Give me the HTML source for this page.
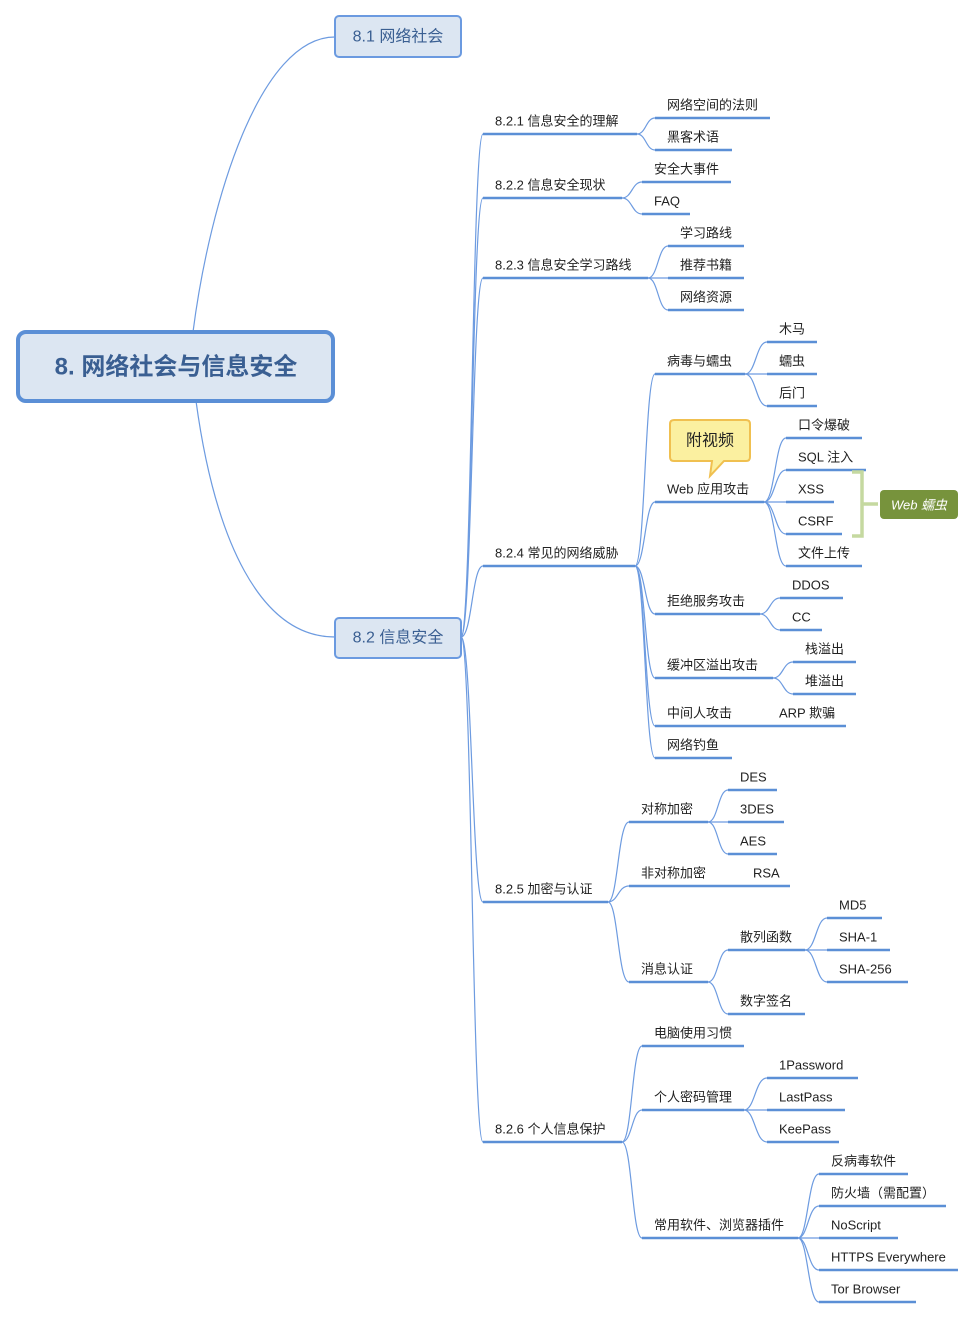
<!DOCTYPE html>
<html><head><meta charset="utf-8"><style>
html,body{margin:0;padding:0;background:#fff;}
svg{display:block;}
text{font-family:"Liberation Sans","Noto Sans CJK SC",sans-serif;font-size:13px;fill:#222;dominant-baseline:central;}
.u{stroke:#5b8fd6;stroke-width:2.5;fill:none;}
.c{stroke:#6d9be0;stroke-width:1.2;fill:none;}
</style></head><body>
<svg width="976" height="1319" viewBox="0 0 976 1319" xmlns="http://www.w3.org/2000/svg">
<!-- root curves -->
<path class="c" d="M193,332 C210,200 260,37 335,37"/>
<path class="c" d="M196,401 C215,540 260,637 335,637"/>
<!-- trunk -->
<g class="c">
<path d="M461,637 C472,637 472,134 483,134"/>
<path d="M461,637 C472,637 472,198 483,198"/>
<path d="M461,637 C472,637 472,278 483,278"/>
<path d="M461,637 C472,637 472,566 483,566"/>
<path d="M461,637 C472,637 472,902 483,902"/>
<path d="M461,637 C472,637 472,1142 483,1142"/>
<path d="M637,134 C646,134 646,118 655,118"/><path d="M637,134 C646,134 646,150 655,150"/>
<path d="M622,198 C632,198 632,182 642,182"/><path d="M622,198 C632,198 632,214 642,214"/>
<path d="M648,278 C658,278 658,246 668,246"/><path d="M648,278 L668,278"/><path d="M648,278 C658,278 658,310 668,310"/>
<path d="M635,566 C645,566 645,374 655,374"/><path d="M635,566 C645,566 645,502 655,502"/><path d="M635,566 C645,566 645,614 655,614"/><path d="M635,566 C645,566 645,678 655,678"/><path d="M635,566 C645,566 645,726 655,726"/><path d="M635,566 C645,566 645,758 655,758"/>
<path d="M745,374 C756,374 756,342 767,342"/><path d="M745,374 L767,374"/><path d="M745,374 C756,374 756,406 767,406"/>
<path d="M764,502 C775,502 775,438 786,438"/><path d="M764,502 C775,502 775,470 786,470"/><path d="M764,502 L786,502"/><path d="M764,502 C775,502 775,534 786,534"/><path d="M764,502 C775,502 775,566 786,566"/>
<path d="M760,614 C770,614 770,598 780,598"/><path d="M760,614 C770,614 770,630 780,630"/>
<path d="M773,678 C783,678 783,662 793,662"/><path d="M773,678 C783,678 783,694 793,694"/>
<path d="M608,902 C618,902 618,822 629,822"/><path d="M608,902 C618,902 618,886 629,886"/><path d="M608,902 C618,902 618,982 629,982"/>
<path d="M708,822 C718,822 718,790 728,790"/><path d="M708,822 L728,822"/><path d="M708,822 C718,822 718,854 728,854"/>
<path d="M708,982 C718,982 718,950 728,950"/><path d="M708,982 C718,982 718,1014 728,1014"/>
<path d="M805,950 C816,950 816,918 827,918"/><path d="M805,950 L827,950"/><path d="M805,950 C816,950 816,982 827,982"/>
<path d="M622,1142 C632,1142 632,1046 642,1046"/><path d="M622,1142 C632,1142 632,1110 642,1110"/><path d="M622,1142 C632,1142 632,1238 642,1238"/>
<path d="M744,1110 C755,1110 755,1078 767,1078"/><path d="M744,1110 L767,1110"/><path d="M744,1110 C755,1110 755,1142 767,1142"/>
<path d="M798,1238 C808,1238 808,1174 819,1174"/><path d="M798,1238 C808,1238 808,1206 819,1206"/><path d="M798,1238 L819,1238"/><path d="M798,1238 C808,1238 808,1270 819,1270"/><path d="M798,1238 C808,1238 808,1302 819,1302"/>
</g>
<!-- underlines -->
<g class="u">
<path d="M483,134H637M483,198H622M483,278H648M483,566H635M483,902H608M483,1142H622"/>
<path d="M655,118H770M655,150H732M642,182H731M642,214H690M668,246H744M668,278H744M668,310H744"/>
<path d="M655,374H745M767,342H817M767,374H817M767,406H817"/>
<path d="M655,502H764M786,438H862M786,470H866M786,502H834M786,534H842M786,566H862"/>
<path d="M655,614H760M780,598H843M780,630H822M655,678H773M793,662H856M793,694H856"/>
<path d="M655,726H745M745,726H767M767,726H846M655,758H732"/>
<path d="M629,822H708M728,790H777M728,822H784M728,854H777M629,886H731M731,886H741M741,886H790"/>
<path d="M629,982H708M728,950H805M728,1014H805M827,918H882M827,950H890M827,982H908"/>
<path d="M642,1046H744M642,1110H744M767,1078H858M767,1110H845M767,1142H839"/>
<path d="M642,1238H798M819,1174H908M819,1206H946M819,1238H898M819,1270H958M819,1302H916"/>
</g>
<!-- boxes -->
<rect x="18" y="332" width="315" height="69" rx="8" fill="#dce6f2" stroke="#5b8fd6" stroke-width="4"/>
<text x="176" y="367" text-anchor="middle" style="font-size:24px;font-weight:bold;fill:#3a5f92">8. 网络社会与信息安全</text>
<rect x="335" y="16" width="126" height="41" rx="4" fill="#dce6f2" stroke="#6b9ae0" stroke-width="2"/>
<text x="398" y="37" text-anchor="middle" style="font-size:16px;fill:#3a5f92">8.1 网络社会</text>
<rect x="335" y="618" width="126" height="40" rx="4" fill="#dce6f2" stroke="#6b9ae0" stroke-width="2"/>
<text x="398" y="638" text-anchor="middle" style="font-size:16px;fill:#3a5f92">8.2 信息安全</text>
<!-- callout -->
<path d="M674,420 H746 Q750,420 750,424 V457 Q750,461 746,461 H724 L710,476 L712,461 H674 Q670,461 670,457 V424 Q670,420 674,420 Z" fill="#fbf0a0" stroke="#f0c050" stroke-width="2"/>
<text x="710" y="441" text-anchor="middle" style="font-size:16px">附视频</text>
<!-- bracket -->
<path d="M852,472 H862 V536 H852 M862,504 H878" stroke="#c5d9a0" stroke-width="3.5" fill="none"/>
<rect x="880" y="490" width="78" height="29" rx="4" fill="#77933c"/>
<text x="919" y="505" text-anchor="middle" style="font-style:italic;fill:#fff">Web 蠕虫</text>
<!-- labels -->
<text x="495" y="121">8.2.1 信息安全的理解</text>
<text x="495" y="185">8.2.2 信息安全现状</text>
<text x="495" y="265">8.2.3 信息安全学习路线</text>
<text x="495" y="553">8.2.4 常见的网络威胁</text>
<text x="495" y="889">8.2.5 加密与认证</text>
<text x="495" y="1129">8.2.6 个人信息保护</text>
<text x="667" y="105">网络空间的法则</text>
<text x="667" y="137">黑客术语</text>
<text x="654" y="169">安全大事件</text>
<text x="654" y="201">FAQ</text>
<text x="680" y="233">学习路线</text>
<text x="680" y="265">推荐书籍</text>
<text x="680" y="297">网络资源</text>
<text x="667" y="361">病毒与蠕虫</text>
<text x="779" y="329">木马</text>
<text x="779" y="361">蠕虫</text>
<text x="779" y="393">后门</text>
<text x="667" y="489">Web 应用攻击</text>
<text x="798" y="425">口令爆破</text>
<text x="798" y="457">SQL 注入</text>
<text x="798" y="489">XSS</text>
<text x="798" y="521">CSRF</text>
<text x="798" y="553">文件上传</text>
<text x="667" y="601">拒绝服务攻击</text>
<text x="792" y="585">DDOS</text>
<text x="792" y="617">CC</text>
<text x="667" y="665">缓冲区溢出攻击</text>
<text x="805" y="649">栈溢出</text>
<text x="805" y="681">堆溢出</text>
<text x="667" y="713">中间人攻击</text>
<text x="779" y="713">ARP 欺骗</text>
<text x="667" y="745">网络钓鱼</text>
<text x="641" y="809">对称加密</text>
<text x="740" y="777">DES</text>
<text x="740" y="809">3DES</text>
<text x="740" y="841">AES</text>
<text x="641" y="873">非对称加密</text>
<text x="753" y="873">RSA</text>
<text x="641" y="969">消息认证</text>
<text x="740" y="937">散列函数</text>
<text x="839" y="905">MD5</text>
<text x="839" y="937">SHA-1</text>
<text x="839" y="969">SHA-256</text>
<text x="740" y="1001">数字签名</text>
<text x="654" y="1033">电脑使用习惯</text>
<text x="654" y="1097">个人密码管理</text>
<text x="779" y="1065">1Password</text>
<text x="779" y="1097">LastPass</text>
<text x="779" y="1129">KeePass</text>
<text x="654" y="1225">常用软件、浏览器插件</text>
<text x="831" y="1161">反病毒软件</text>
<text x="831" y="1193">防火墙（需配置）</text>
<text x="831" y="1225">NoScript</text>
<text x="831" y="1257">HTTPS Everywhere</text>
<text x="831" y="1289">Tor Browser</text>
</svg>
</body></html>
